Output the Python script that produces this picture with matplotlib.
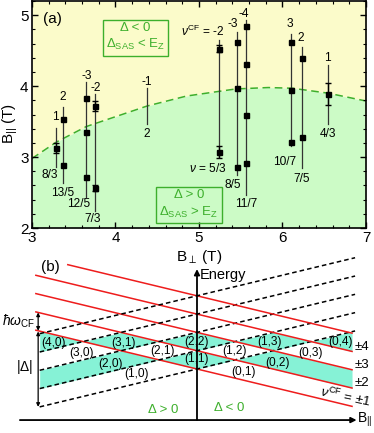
import numpy as np
import matplotlib
matplotlib.use("Agg")
import matplotlib.pyplot as plt

plt.rcParams['font.family'] = ['Liberation Sans', 'DejaVu Sans']
plt.rcParams['mathtext.fontset'] = 'custom'
plt.rcParams['mathtext.rm'] = 'Liberation Sans'
plt.rcParams['mathtext.it'] = 'Liberation Sans:italic'
plt.rcParams['mathtext.bf'] = 'Liberation Sans:bold'

YELLOW = '#fbfbca'
LGREEN = '#ccfbc6'
GREEN = '#3daf2c'
TEAL = '#86f2d6'
RED = '#ee1c1c'

# ---- panel (a) data ----
bperp = [3.29, 3.37, 3.65, 3.76, 4.38, 5.24, 5.45, 5.56, 6.10, 6.23, 6.54]
line_top = [3.41, 3.70, 4.06, 3.89, 3.98, 4.65, 4.76, 4.93, 4.74, 4.55, 4.30]
line_bot = [2.86, 2.64, 2.44, 2.24, 3.47, 3.00, 2.75, 2.46, 3.15, 2.84, 3.47]
marks = [[3.13], [3.53, 2.89], [3.83, 3.36, 2.72], [3.72, 2.56], [],
         [4.53, 3.07], [4.62, 3.97, 2.86], [4.85, 4.31, 3.59, 2.91],
         [4.62, 3.95, 3.21], [4.40, 3.28], [3.89]]
err_x = [3.29, 3.76, 3.76, 5.24, 5.24, 6.54]
err_y = [3.13, 3.72, 2.56, 4.53, 3.07, 3.89]
err_dy = [0.07, 0.07, 0.04, 0.05, 0.09, 0.16]

top_lbl = ['1', '2', '-3', '-2', '-1', r'$\nu^{\rm CF}$ = -2', '-3', '-4', '3', '2', '1']
top_lx = [3.28, 3.37, 3.65, 3.76, 4.38, 5.30, 5.41, 5.54, 6.09, 6.22, 6.54]
top_ly = [3.57, 3.85, 4.14, 3.98, 4.06, 4.77, 4.87, 5.02, 4.88, 4.68, 4.39]
bot_lbl = ['8/3', '13/5', '12/5', '7/3', '2', r'$\nu$ = 5/3', '8/5', '11/7', '10/7', '7/5', '4/3']
bot_lx = [3.21, 3.37, 3.56, 3.73, 4.38, 5.33, 5.40, 5.57, 6.02, 6.23, 6.54]
bot_ly = [2.75, 2.50, 2.34, 2.13, 3.32, 2.84, 2.61, 2.34, 2.93, 2.69, 3.33]

bnd_x = [3.0, 3.29, 3.65, 4.38, 4.85, 5.44, 5.83, 6.12, 6.55, 7.0]
bnd_y = [2.98, 3.21, 3.43, 3.72, 3.86, 3.96, 3.98, 3.97, 3.90, 3.79]

# ---- panel (b) data ----
level_idx = [0, 1, 2, 3, 4]
red_start = [-2.12, -2.12, -2.12, -2.12, -1.70]
red_end = 2.04
dash_start = -2.07
dash_end = 2.08
pair_lbl = ['(4,0)', '(3,0)', '(3,1)', '(2,0)', '(2,1)', '(2,2)', '(1,0)', '(1,1)',
            '(1,2)', '(1,3)', '(0,1)', '(0,2)', '(0,3)', '(0,4)']
pair_x = [-1.89, -1.52, -0.97, -1.14, -0.46, 0.0, -0.80, 0.0, 0.50, 0.96, 0.61, 1.06, 1.49, 1.89]
pair_y = [1.40, 0.86, 1.40, 0.27, 0.97, 1.49, -0.30, 0.53, 0.98, 1.49, -0.15, 0.34, 0.86, 1.46]
nu_lbl = ['±4', '±3', '±2']
nu_y = [1.22, 0.22, -0.78]

fig = plt.figure(figsize=(3.74, 4.33), dpi=100)

# ================= panel (a) =================
ax = fig.add_axes([32 / 374, 1 - 228 / 433, 334 / 374, 227 / 433])
ax.set_xlim(3, 7)
ax.set_ylim(2, 5.2)
ax.fill_between(bnd_x, bnd_y, 5.2, color=YELLOW, lw=0, zorder=0)
ax.fill_between(bnd_x, 2, bnd_y, color=LGREEN, lw=0, zorder=0)
ax.plot(bnd_x, bnd_y, color=GREEN, ls=(0, (5, 3)), lw=1.1, zorder=1)

for i, x in enumerate(bperp):
    ax.plot([x, x], [line_bot[i], line_top[i]], color='#333333', lw=0.9, zorder=2)
    if marks[i]:
        ax.plot([x] * len(marks[i]), marks[i], 's', color='black', ms=3.6, zorder=4)
    ha = 'right' if i == 5 else 'center'
    ax.text(top_lx[i], top_ly[i], top_lbl[i], ha=ha, va='center', fontsize=8.6)
    ax.text(bot_lx[i], bot_ly[i], bot_lbl[i], ha=ha, va='center', fontsize=8.6)

ax.errorbar(err_x, err_y, yerr=err_dy, fmt='none', ecolor='black', elinewidth=1.0,
            capsize=2.4, capthick=1.0, zorder=3)

ax.text(3.25, 4.95, '(a)', ha='center', va='center', fontsize=11)
ax.text(4.24, 4.69, 'Δ < 0\nΔ$_{\\rm SAS}$ < E$_{\\rm Z}$', ha='center', va='center',
        fontsize=9.5, color=GREEN, linespacing=1.3,
        bbox=dict(boxstyle='square,pad=0.25', fc='none', ec=GREEN, lw=1.0))
ax.text(4.88, 2.33, 'Δ > 0\nΔ$_{\\rm SAS}$ > E$_{\\rm Z}$', ha='center', va='center',
        fontsize=9.5, color=GREEN, linespacing=1.3,
        bbox=dict(boxstyle='square,pad=0.25', fc='none', ec=GREEN, lw=1.0))

ax.set_xticks([3, 4, 5, 6, 7])
ax.set_yticks([2, 3, 4, 5])
ax.set_xticks(np.arange(3, 7.01, 0.2), minor=True)
ax.set_yticks(np.arange(2, 5.21, 0.2), minor=True)
ax.tick_params(which='both', direction='in', top=True, right=True, labelsize=11, pad=2.5)
ax.tick_params(which='major', length=4, width=1)
ax.tick_params(which='minor', length=2.5, width=0.8)
for s in ax.spines.values():
    s.set_linewidth(1.2)
ax.set_xlabel('B$_{\\perp}$ (T)', fontsize=11, labelpad=2)
ax.set_ylabel('B$_{||}$ (T)', fontsize=11)
ax.yaxis.set_label_coords(-0.035, 0.46)

# ================= panel (b) =================
bx = fig.add_axes([0, 0, 1, (433 - 240) / 433])
bx.set_xlim(-2.592, 2.329)
bx.set_ylim(-3.497, 7.049)
bx.axis('off')

xx = np.linspace(dash_start, red_end, 2000)
levels = np.sort(np.vstack([c - xx for c in level_idx] + [c + xx for c in level_idx]), axis=0)
bx.fill_between(xx, levels[1], levels[2], color=TEAL, lw=0, zorder=0)
bx.fill_between(xx, levels[3], levels[4], color=TEAL, lw=0, zorder=0)

for c, xs in zip(level_idx, red_start):
    bx.plot([xs, red_end], [c - xs, c - red_end], color=RED, lw=1.1, zorder=2)
    bx.plot([dash_start, dash_end], [c + dash_start, c + dash_end], color='black',
            lw=1.1, ls=(0, (3, 2)), zorder=2)

for lbl, x, y in zip(pair_lbl, pair_x, pair_y):
    bx.text(x, y, lbl, ha='center', va='center', fontsize=8.6, zorder=3)

for lbl, y in zip(nu_lbl, nu_y):
    bx.text(2.08, y, lbl, ha='left', va='center', fontsize=9.5)
bx.text(1.95, -1.51, r'$\nu^{\rm CF}$ = ±1', ha='center', va='center', fontsize=9.5, rotation=-12)

# axes arrows
bx.annotate('', xy=(2.10, -2.79), xytext=(-2.33, -2.79),
            arrowprops=dict(arrowstyle='-|>', color='black', lw=1.3, mutation_scale=8,
                            shrinkA=0, shrinkB=0))
bx.annotate('', xy=(0, 5.46), xytext=(0, -2.79),
            arrowprops=dict(arrowstyle='-|>', color='black', lw=1.3, mutation_scale=8,
                            shrinkA=0, shrinkB=0))
bx.text(0.04, 5.14, 'Energy', ha='left', va='center', fontsize=10.5)
bx.text(2.11, -2.79, 'B$_{||}$', ha='left', va='center', fontsize=10)

# hbar omega and |Delta| arrows
bx.annotate('', xy=(-2.09, 3.09), xytext=(-2.09, 2.09),
            arrowprops=dict(arrowstyle='<|-|>', color='black', lw=0.9, mutation_scale=5,
                            shrinkA=0, shrinkB=0))
bx.annotate('', xy=(-2.09, 2.05), xytext=(-2.09, -2.07),
            arrowprops=dict(arrowstyle='<|-|>', color='black', lw=0.9, mutation_scale=5,
                            shrinkA=0, shrinkB=0))
bx.text(-2.13, 2.58, r'$\hbar\omega_{\rm CF}$', ha='right', va='center', fontsize=10)
bx.text(-2.16, 0.12, r'$|\Delta|$', ha='right', va='center', fontsize=10)

bx.text(-1.93, 5.6, '(b)', ha='center', va='center', fontsize=11)
bx.text(-0.44, -2.24, 'Δ > 0', ha='center', va='center', fontsize=9.5, color=GREEN)
bx.text(0.42, -2.15, 'Δ < 0', ha='center', va='center', fontsize=9.5, color=GREEN)

fig.savefig('out.png', dpi=100)
